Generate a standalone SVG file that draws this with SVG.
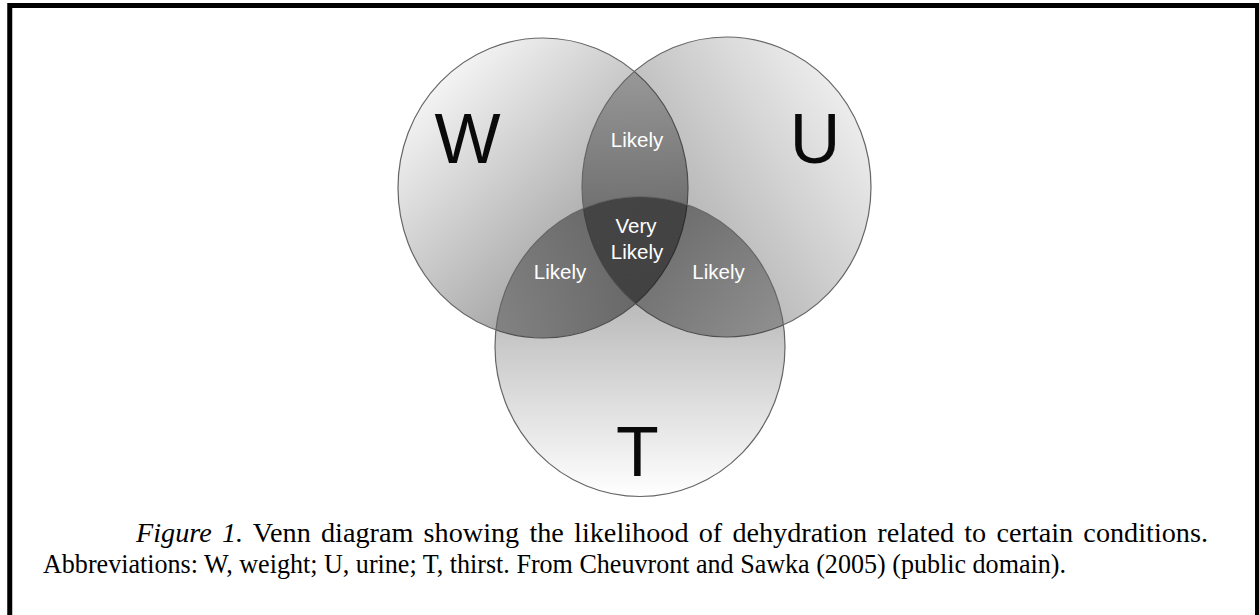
<svg xmlns="http://www.w3.org/2000/svg" width="1259" height="615" viewBox="0 0 1259 615">
  <style>
    .ring { stroke: #666666; stroke-width: 1.2; }
    .big { font-family: "Liberation Sans", Arial, sans-serif; font-size: 70px; fill: #0a0a0a; text-anchor: middle; }
    .lbl { font-family: "Liberation Sans", Arial, sans-serif; font-size: 20.5px; fill: #ffffff; text-anchor: middle; }
    .cap { font-family: "Liberation Serif", "Times New Roman", serif; font-size: 27px; fill: #000000; }
  </style>
  <defs>
    <linearGradient id="gW" x1="0.15" y1="0.05" x2="0.9" y2="0.85">
      <stop offset="0" stop-color="#000" stop-opacity="0.02"/>
      <stop offset="1" stop-color="#000" stop-opacity="0.45"/>
    </linearGradient>
    <linearGradient id="gU" x1="0.95" y1="0.3" x2="0.1" y2="0.9">
      <stop offset="0" stop-color="#000" stop-opacity="0.08"/>
      <stop offset="1" stop-color="#000" stop-opacity="0.4"/>
    </linearGradient>
    <linearGradient id="gT" x1="0.5" y1="0" x2="0.5" y2="1">
      <stop offset="0" stop-color="#000" stop-opacity="0.42"/>
      <stop offset="1" stop-color="#000" stop-opacity="0.0"/>
    </linearGradient>
  </defs>
  <rect x="0" y="0" width="1259" height="615" fill="#ffffff"/>
  <rect id="frame" x="9.75" y="5.5" width="1247.75" height="640" fill="none" stroke="#000000" stroke-width="5"/>

  <g id="node-W">
    <ellipse class="ring" cx="543" cy="188" rx="145" ry="150" fill="url(#gW)"/>
  </g>
  <g id="node-U">
    <ellipse class="ring" cx="726.5" cy="187" rx="144.5" ry="150" fill="url(#gU)"/>
  </g>
  <g id="node-T">
    <ellipse class="ring" cx="640" cy="346.5" rx="145" ry="150" fill="url(#gT)"/>
  </g>

  <g id="labels">
    <text class="big" x="467.5" y="163">W</text>
    <text class="big" x="815" y="163">U</text>
    <text class="big" x="637.5" y="476">T</text>
  </g>
  <g id="region-WU"><text class="lbl" x="637" y="147">Likely</text></g>
  <g id="region-WUT">
    <text class="lbl" x="636" y="233">Very</text>
    <text class="lbl" x="637" y="259">Likely</text>
  </g>
  <g id="region-WT"><text class="lbl" x="560" y="279">Likely</text></g>
  <g id="region-UT"><text class="lbl" x="718.5" y="279">Likely</text></g>

  <g id="connectors"></g>

  <g id="caption">
    <text class="cap" x="136" y="542" word-spacing="3" textLength="1072" lengthAdjust="spacingAndGlyphs"><tspan font-style="italic">Figure 1.</tspan> Venn diagram showing the likelihood of dehydration related to certain conditions.</text>
    <text class="cap" x="43" y="573" textLength="1023" lengthAdjust="spacingAndGlyphs">Abbreviations: W, weight; U, urine; T, thirst. From Cheuvront and Sawka (2005) (public domain).</text>
  </g>
</svg>
